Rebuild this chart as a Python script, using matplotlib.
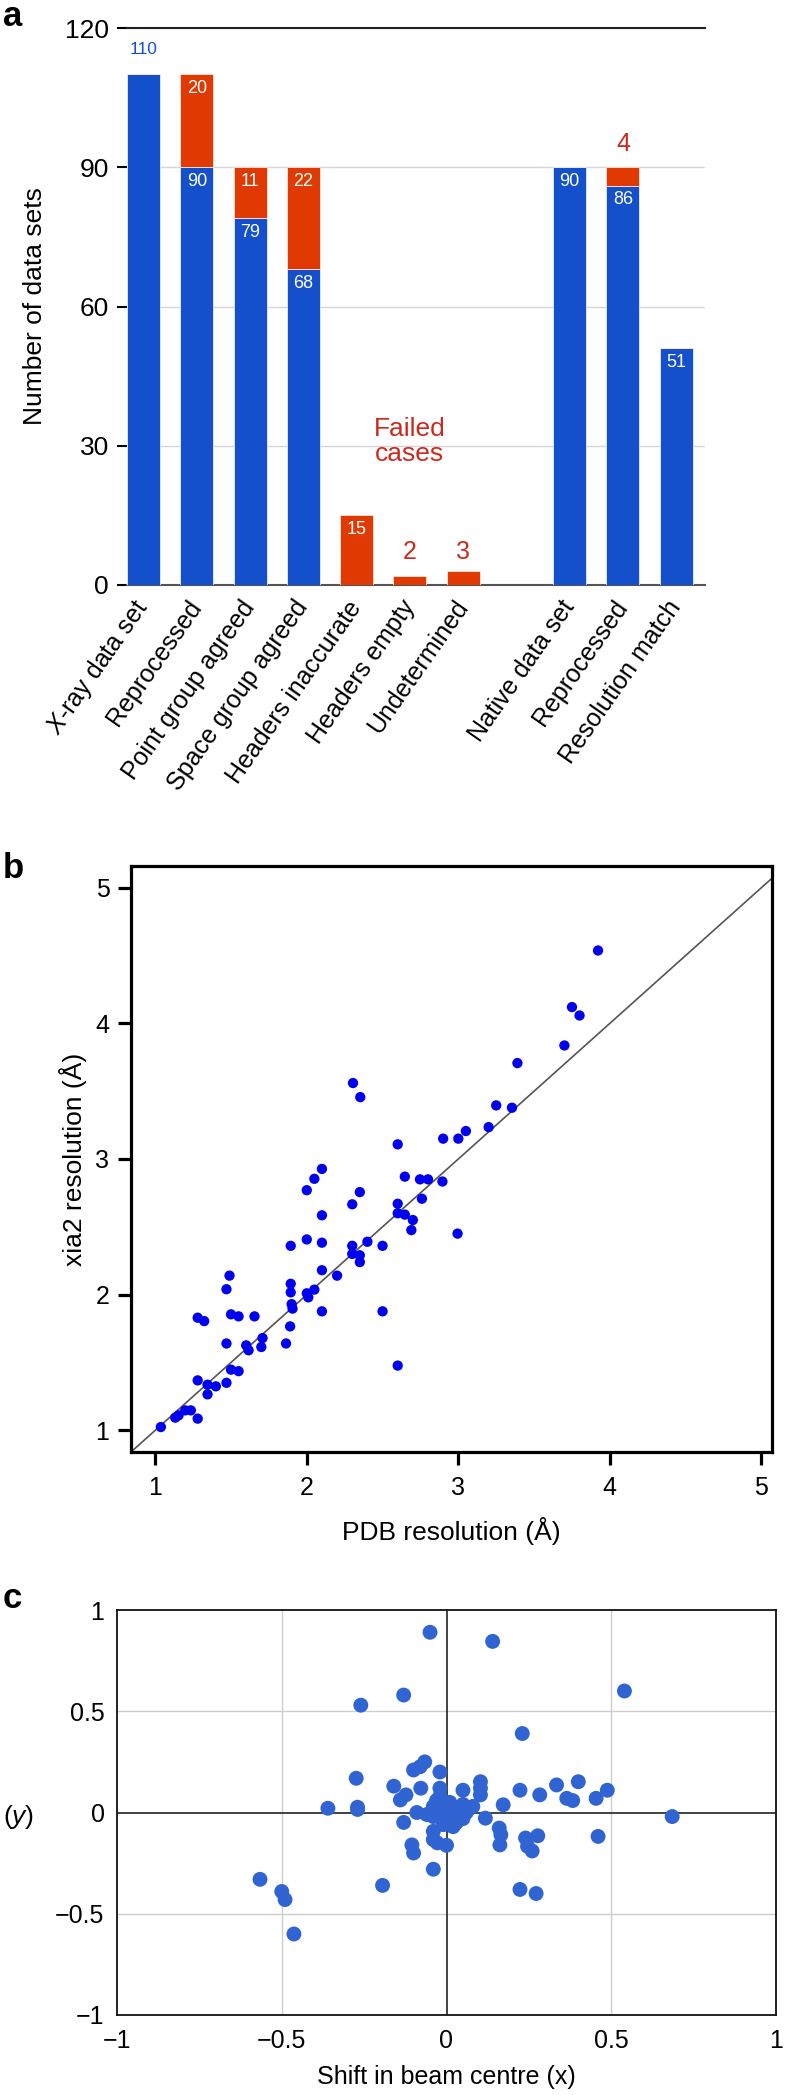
import matplotlib
matplotlib.use('Agg')
import matplotlib.pyplot as plt
import numpy as np

plt.rcParams['font.family'] = ['Liberation Sans', 'DejaVu Sans']
plt.rcParams['mathtext.fontset'] = 'custom'
plt.rcParams['mathtext.rm'] = 'Liberation Sans'
plt.rcParams['mathtext.it'] = 'Liberation Sans:italic'

# ---------------- data ----------------
# panel a
cat_a = [r'$\mathit{X}$-ray data set', 'Reprocessed', 'Point group agreed', 'Space group agreed',
         'Headers inaccurate', 'Headers empty', 'Undetermined',
         'Native data set', 'Reprocessed', 'Resolution match']
pos_a = [0, 1, 2, 3, 4, 5, 6, 8, 9, 10]
blue_a = [110, 90, 79, 68, 0, 0, 0, 90, 86, 51]
red_a = [0, 20, 11, 22, 15, 2, 3, 0, 4, 0]
yticks_a = [0, 30, 60, 90, 120]

# panel b
pdb_res = [2.305, 2.353, 2.60, 2.90, 3.00, 3.05, 3.20, 3.25, 3.354, 3.39, 3.70, 3.75, 3.80, 3.922,
           2.647, 2.747, 2.80, 2.895, 2.76, 2.60, 2.60, 2.647, 2.70, 2.69, 2.995, 2.10, 2.05, 2.0,
           2.35, 2.30, 2.10, 2.0, 2.10, 1.894, 2.30, 2.40, 2.50, 2.30, 2.35, 2.35, 2.10, 2.20,
           1.49, 1.47, 1.894, 1.894, 2.0, 2.05, 2.01,
           1.037, 1.132, 1.154, 1.198, 1.235, 1.28, 1.28, 1.345, 1.40, 1.345, 1.47, 1.50, 1.55,
           1.47, 1.60, 1.616, 1.708, 1.70, 1.863, 1.89, 1.906, 1.90, 1.28, 1.323, 1.50, 1.55,
           1.655, 2.10, 2.50, 2.60]
xia2_res = [3.56, 3.456, 3.108, 3.15, 3.15, 3.206, 3.235, 3.395, 3.378, 3.707, 3.837, 4.12, 4.058, 4.537,
            2.87, 2.85, 2.85, 2.834, 2.707, 2.67, 2.60, 2.59, 2.55, 2.476, 2.45, 2.927, 2.854, 2.77,
            2.756, 2.666, 2.585, 2.407, 2.383, 2.36, 2.36, 2.39, 2.36, 2.30, 2.29, 2.24, 2.18, 2.14,
            2.14, 2.04, 2.08, 2.017, 2.01, 2.037, 1.98,
            1.024, 1.093, 1.11, 1.147, 1.147, 1.086, 1.368, 1.336, 1.324, 1.265, 1.35, 1.447, 1.436,
            1.64, 1.626, 1.59, 1.68, 1.614, 1.64, 1.766, 1.897, 1.93, 1.83, 1.805, 1.855, 1.84,
            1.84, 1.877, 1.877, 1.477]
ticks_b = [1, 2, 3, 4, 5]

# panel c
shift_x = [-0.05, 0.14, -0.13, 0.54, -0.26, 0.23,
           -0.066, -0.08, -0.10, -0.02, -0.274, -0.16, -0.078, -0.123, -0.14, 0.103, 0.103, 0.103,
           0.05, 0.223, 0.283, 0.334, 0.40, 0.365, 0.383, 0.454, 0.488, 0.172, -0.36, -0.27, -0.27,
           0.685, 0.118, -0.13,
           -0.02, -0.02, -0.03, -0.04, -0.09, -0.06, -0.02, 0.0, 0.01, 0.02, 0.03, 0.04, 0.05, 0.06,
           0.07, 0.03, 0.02, 0.0, -0.01, 0.05, -0.04, 0.08, 0.01,
           0.16, 0.165, 0.162, -0.04, -0.04, -0.028, 0.0, -0.105, -0.10, 0.24, 0.277, 0.246, 0.26,
           0.46, -0.04, -0.566, -0.194, -0.50, -0.49, 0.223, 0.272, -0.463]
shift_y = [0.89, 0.845, 0.58, 0.60, 0.53, 0.39,
           0.25, 0.226, 0.21, 0.20, 0.169, 0.13, 0.12, 0.087, 0.062, 0.152, 0.12, 0.087,
           0.11, 0.11, 0.087, 0.136, 0.152, 0.07, 0.059, 0.07, 0.11, 0.038, 0.021, 0.026, 0.015,
           -0.02, -0.028, -0.049,
           0.12, 0.08, 0.06, 0.03, 0.0, -0.01, 0.01, 0.03, 0.0, 0.02, -0.02, 0.01, 0.04, 0.0,
           0.02, -0.05, -0.07, -0.04, -0.06, -0.03, -0.02, 0.03, 0.05,
           -0.077, -0.11, -0.16, -0.093, -0.134, -0.15, -0.162, -0.16, -0.2, -0.126, -0.115, -0.167, -0.19,
           -0.118, -0.28, -0.33, -0.36, -0.39, -0.43, -0.38, -0.40, -0.60]
ticks_c = [-1, -0.5, 0, 0.5, 1]

# ---------------- layout ----------------
W, H, DPI = 788, 2095, 100
fig = plt.figure(figsize=(W / DPI, H / DPI), dpi=DPI)

def rect(l, t, r, b):
    return [l / W, 1 - b / H, (r - l) / W, (b - t) / H]

BLUE = '#1450CC'
RED = '#E03A02'
RED_TXT = '#CC2A1E'

# ---------------- panel a ----------------
ax = fig.add_axes(rect(127, 28, 705, 585))
bw = 0.62
ax.bar(pos_a, blue_a, width=bw, color=BLUE, edgecolor='#E8EEFA', linewidth=0.6, zorder=3)
ax.bar(pos_a, red_a, width=bw, bottom=blue_a, color=RED, edgecolor='#FBE6DE', linewidth=0.6, zorder=3)
ax.set_xlim(-0.31, 10.54)
ax.set_ylim(0, 120)
ax.set_yticks(yticks_a)
ax.yaxis.grid(True, color='#D6D6D6', linewidth=1.0, zorder=0)
ax.set_axisbelow(True)
for s in ['left', 'right']:
    ax.spines[s].set_visible(False)
ax.spines['top'].set_color('#222222')
ax.spines['top'].set_linewidth(1.5)
ax.spines['bottom'].set_color('#555555')
ax.spines['bottom'].set_linewidth(1.5)
ax.tick_params(axis='y', length=7, width=1.5, labelsize=19, pad=6, color='black')
ax.set_xticks(pos_a)
ax.set_xticklabels(cat_a, rotation=55, ha='right', va='center', rotation_mode='anchor', fontsize=18)
ax.tick_params(axis='x', length=0, pad=13)
ax.set_ylabel('Number of data sets', fontsize=19, labelpad=13)

for i, (p, b, r) in enumerate(zip(pos_a, blue_a, red_a)):
    if b > 0:
        if i == 0:
            ax.annotate(str(b), (p, b), xytext=(0, 18), textcoords='offset points',
                        ha='center', va='center', fontsize=12.5, color=BLUE)
        else:
            ax.annotate(str(b), (p, b), xytext=(0, -4), textcoords='offset points',
                        ha='center', va='top', fontsize=13, color='white', zorder=5)
    if r > 0:
        if r >= 10:
            ax.annotate(str(r), (p, b + r), xytext=(0, -4), textcoords='offset points',
                        ha='center', va='top', fontsize=13, color='white', zorder=5)
        else:
            off = 17 if r < 3 else (14 if b == 0 else 17)
            ax.annotate(str(r), (p, b + r), xytext=(0, off), textcoords='offset points',
                        ha='center', va='center', fontsize=18, color=RED_TXT)
ax.text(5, 31, 'Failed\ncases', ha='center', va='center', fontsize=19, color=RED_TXT,
        linespacing=1.05)
fig.text(3 / W, 1 - 17 / H, 'a', fontsize=25, fontweight='bold', ha='left', va='center')

# ---------------- panel b ----------------
bx = fig.add_axes(rect(131, 866, 772, 1452))
bx.plot([0.5, 5.5], [0.5, 5.5], color='#555555', linewidth=1.2, zorder=1)
bx.scatter(pdb_res, xia2_res, s=55, color='#0000EE', edgecolors='none', zorder=3)
bx.set_xlim(0.84, 5.07)
bx.set_ylim(0.84, 5.16)
bx.set_xticks(ticks_b)
bx.set_yticks(ticks_b)
for s in bx.spines.values():
    s.set_linewidth(2.3)
bx.tick_params(direction='out', length=9.5, width=2.3, labelsize=18)
bx.tick_params(axis='x', pad=8)
bx.tick_params(axis='y', pad=6)
bx.set_xlabel('PDB resolution (Å)', fontsize=19, labelpad=12)
bx.set_ylabel('xia2 resolution (Å)', fontsize=19, labelpad=6)
fig.text(3 / W, 1 - 868 / H, 'b', fontsize=25, fontweight='bold', ha='left', va='center')

# ---------------- panel c ----------------
cx = fig.add_axes(rect(117, 1610, 776, 2015))
cx.set_xlim(-1, 1)
cx.set_ylim(-1, 1)
for v in [-0.5, 0.5]:
    cx.axvline(v, color='#CCCCCC', linewidth=1.0, zorder=0)
    cx.axhline(v, color='#CCCCCC', linewidth=1.0, zorder=0)
cx.axvline(0, color='#222222', linewidth=1.2, zorder=1)
cx.axhline(0, color='#222222', linewidth=1.2, zorder=1)
cx.scatter(shift_x, shift_y, s=115, color='#2F64D2', edgecolors='none', zorder=3)
cx.set_xticks(ticks_c)
cx.set_yticks(ticks_c)
cx.set_xticklabels(['−1', '−0.5', '0', '0.5', '1'], fontsize=18)
cx.set_yticklabels(['−1', '−0.5', '0', '0.5', '1'], fontsize=18)
cx.tick_params(length=0)
cx.tick_params(axis='x', pad=10)
cx.tick_params(axis='y', pad=9)
for s in cx.spines.values():
    s.set_linewidth(1.3)
    s.set_color('#111111')
cx.set_xlabel('Shift in beam centre (x)', fontsize=18, labelpad=9)
fig.text(3 / W, 1 - 1817 / H, r'($\mathit{y}$)', fontsize=19, ha='left', va='center')
fig.text(3 / W, 1 - 1598 / H, 'c', fontsize=25, fontweight='bold', ha='left', va='center')

fig.savefig('out.png', dpi=DPI)
